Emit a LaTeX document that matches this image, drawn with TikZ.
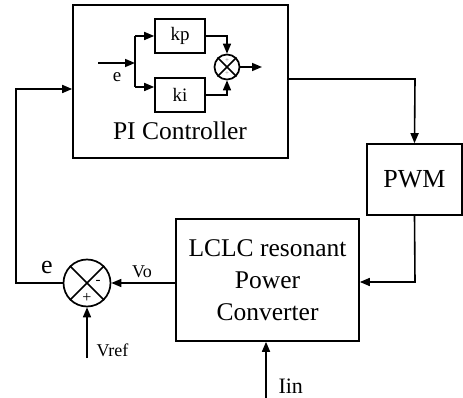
\documentclass[tikz,border=0pt]{standalone}
\usepackage{fontspec}
\setmainfont{Liberation Serif}
\usetikzlibrary{arrows.meta, calc, positioning}
\tikzset{%
  blk/.style={draw, line width=1.6pt, inner sep=0pt},
  sumnode/.style={draw, circle, line width=1.7pt, inner sep=0pt},
  arr/.style={line width=1.6pt, -{Triangle[length=10pt, width=8pt]}},
  wire/.style={line width=1.6pt},
}

\begin{document}
\begin{tikzpicture}[x=1pt, y=-1pt]
    \useasboundingbox (0,0) rectangle (463,398);

    %blocks
    \node[blk, minimum width=215pt, minimum height=153pt] (pic) at (180.5,81.5) {};
    \node[font=\fontsize{25.5}{30}\selectfont, anchor=base] (pilabel) at (180,140) {PI Controller};
    \node[blk, minimum width=50pt, minimum height=34pt, font=\fontsize{19}{22}\selectfont] (kp) at (180,36) {kp};
    \node[blk, minimum width=50pt, minimum height=34pt, font=\fontsize{19}{22}\selectfont] (ki) at (180,95) {ki};
    \node[blk, minimum width=95pt, minimum height=71pt, font=\fontsize{26}{30}\selectfont] (pwm) at (414.5,179.5) {PWM};
    \node[blk, minimum width=183pt, minimum height=122pt, align=center,
          font=\fontsize{25.5}{32}\selectfont] (conv) at (267.5,280) {LCLC resonant\\Power\\Converter};

    %summing junctions
    \node[sumnode, minimum size=25pt] (sa) at (227,67) {};
    \draw[line width=1.7pt] (sa.north east) -- (sa.south west) (sa.north west) -- (sa.south east);
    \node[gray, font=\fontsize{7}{7}\selectfont] at ($(sa.center)+(0,-6.5)$) {+};
    \node[gray, font=\fontsize{7}{7}\selectfont] at ($(sa.center)+(0,6.5)$) {+};

    \node[sumnode, minimum size=47pt] (sb) at (87,283) {};
    \draw[line width=1.7pt] (sb.north east) -- (sb.south west) (sb.north west) -- (sb.south east);
    \node[font=\fontsize{15}{15}\selectfont] (minus) at (98,282) {-};
    \node[font=\fontsize{16}{16}\selectfont] (plus) at (87,298) {+};

    %inner PI paths
    \coordinate (ein) at (98,63);
    \coordinate (br) at (135,63);
    \draw[arr] (ein) -- (br);
    \draw[wire] (135,36) -- (135,87);
    \draw[arr] (135,36) -- (kp.west);
    \draw[arr] (135,87) -- (ki.west |- 0,87);
    \node[font=\fontsize{19}{22}\selectfont] (elabin) at (117,77) {e};
    \draw[arr] (kp.east) -| (sa.north);
    \draw[arr] (ki.east) -| (sa.south);
    \coordinate (piout) at (262,67);
    \draw[arr] (sa.east) -- (piout);

    %outer loop
    \coordinate (c1) at (415,79);
    \draw[arr] (pic.east |- c1) -- (c1) -- (pwm.north);
    \coordinate (c2) at (415,282);
    \draw[arr] (pwm.south) -- (c2) -- (conv.east |- c2);
    \draw[arr] (conv.west |- sb.east) -- (sb.east);
    \node[font=\fontsize{18}{20}\selectfont] (vo) at (142,272) {Vo};
    \coordinate (c3) at (16,283);
    \coordinate (c4) at (16,89);
    \draw[arr] (sb.west) -- (c3) -- (c4) -- (pic.west |- c4);
    \node[font=\fontsize{26}{28}\selectfont] (elab) at (47,268) {e};

    %inputs
    \coordinate (vrefin) at (87,358);
    \draw[arr] (vrefin) -- (sb.south);
    \node[font=\fontsize{18}{20}\selectfont, anchor=west] (vref) at (93,350) {Vref};
    \coordinate (iinin) at (266,398);
    \draw[arr] (iinin) -- (conv.south -| iinin);
    \node[font=\fontsize{22}{24}\selectfont, anchor=west] (iin) at (275,386) {Iin};

\end{tikzpicture}
\end{document}
